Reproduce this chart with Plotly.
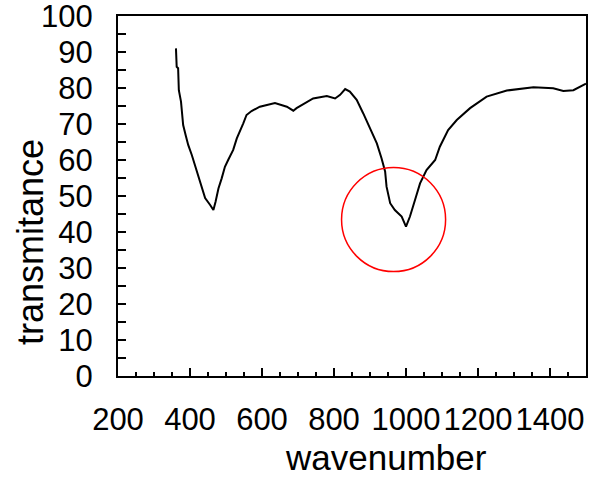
import plotly.graph_objects as go

# spectrum
wavenumber = [361, 363, 367, 369, 375, 377, 381, 388, 395, 405, 414, 423, 432, 442, 456, 465,
              471, 479, 488, 497, 506, 520, 530, 539, 548, 557, 571, 594, 636, 669, 687, 696,
              715, 742, 780, 803, 817, 831, 844, 863, 881, 900, 919, 932, 942, 946, 956, 969,
              988, 1000, 1011, 1025, 1039, 1057, 1081, 1094, 1117, 1141, 1178, 1224, 1280, 1354,
              1409, 1437, 1465, 1500]
transmitance = [91.0, 85.9, 85.5, 79.4, 76.2, 73.0, 69.7, 66.9, 64.2, 61.4, 58.6, 55.8, 52.6, 49.4, 47.5, 46.1,
                48.4, 52.1, 54.9, 58.1, 60.0, 62.8, 66.0, 67.9, 70.2, 72.5, 73.6, 74.8, 75.8, 74.8, 73.7, 74.4,
                75.5, 77.1, 77.8, 77.1, 78.1, 79.7, 79.0, 76.7, 73.0, 68.8, 64.6, 60.5, 56.8, 52.6, 48.0, 46.1,
                44.3, 41.5, 44.3, 48.9, 53.5, 57.2, 60.0, 63.7, 68.3, 71.1, 74.4, 77.6, 79.3, 80.2,
                79.9, 79.2, 79.4, 81.2]

# highlighted region
circle_x = [821, 1110]
circle_y = [29.0, 57.9]

font = "Liberation Sans, Arial, sans-serif"

fig = go.Figure()
fig.add_trace(go.Scatter(x=wavenumber, y=transmitance, mode='lines',
                         line=dict(color='black', width=2), showlegend=False))

fig.add_shape(type='circle', xref='x', yref='y',
              x0=circle_x[0], x1=circle_x[1], y0=circle_y[0], y1=circle_y[1],
              line=dict(color='red', width=1.5))

fig.update_xaxes(range=[200, 1500], tick0=200, dtick=200, ticks='inside', ticklen=8,
                 tickcolor='black', tickwidth=1.5, showline=True, linecolor='black', linewidth=2,
                 mirror=True, showgrid=False, zeroline=False, ticklabelstandoff=15,
                 automargin=False, ticklabeloverflow='allow',
                 tickfont=dict(size=31, color='black', family=font),
                 minor=dict(dtick=50, ticks='inside', ticklen=4, tickcolor='black', tickwidth=1.5))
fig.update_yaxes(range=[0, 100], dtick=10, ticks='inside', ticklen=8,
                 tickcolor='black', tickwidth=1.5, showline=True, linecolor='black', linewidth=2,
                 mirror=True, showgrid=False, zeroline=False, ticklabelstandoff=17,
                 automargin=False, ticklabeloverflow='allow',
                 tickfont=dict(size=31, color='black', family=font),
                 minor=dict(dtick=5, ticks='inside', ticklen=8, tickcolor='black', tickwidth=1.5))

fig.add_annotation(text='transmitance', xref='paper', yref='paper', x=-0.188, y=0.372,
                   xanchor='center', yanchor='middle',
                   textangle=-90, showarrow=False, font=dict(size=36, color='black', family=font))
fig.add_annotation(text='wavenumber', xref='paper', yref='paper', x=0.573, y=-0.286,
                   xanchor='center', yanchor='bottom',
                   showarrow=False, font=dict(size=35, color='black', family=font))

fig.update_layout(width=592, height=480, margin=dict(l=118, r=6, t=16, b=104),
                  plot_bgcolor='white', paper_bgcolor='white')

fig.write_html("out.html", config={'displayModeBar': False},
               post_script="document.body.style.margin='0px';")
